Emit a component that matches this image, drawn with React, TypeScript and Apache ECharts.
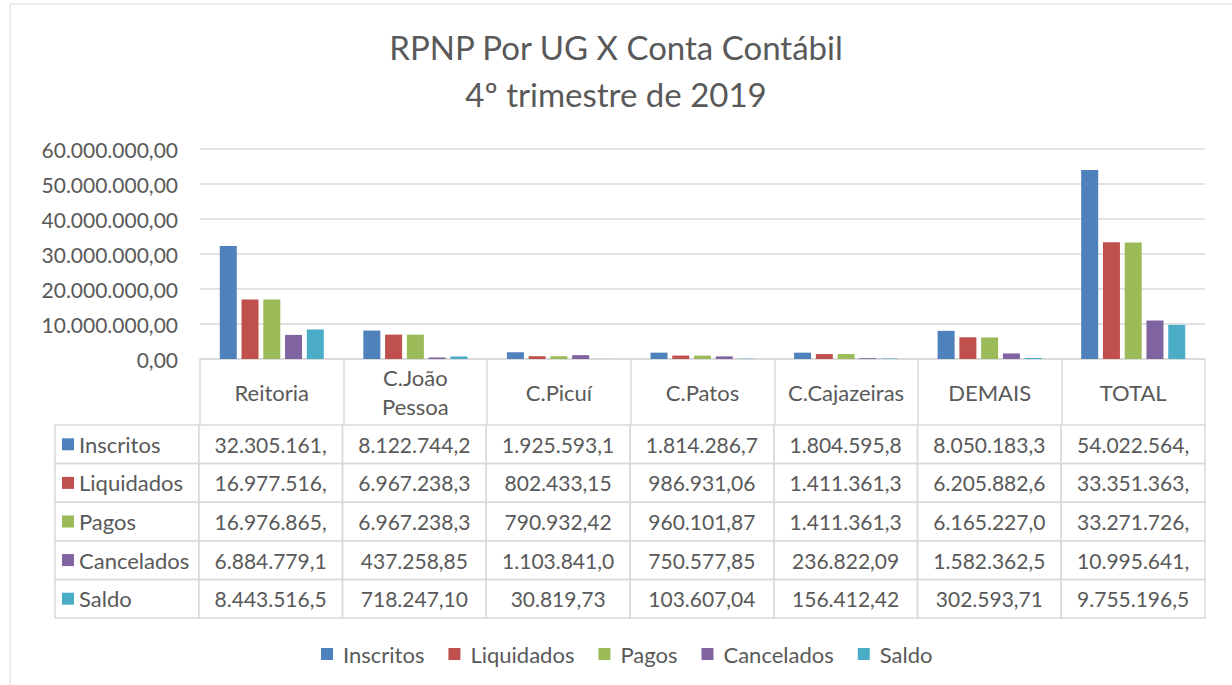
import React, { useEffect, useRef } from 'react';
import * as echarts from 'echarts';

// Categories (UG) and accounting series
const categories = ['Reitoria', 'C.João\nPessoa', 'C.Picuí', 'C.Patos', 'C.Cajazeiras', 'DEMAIS', 'TOTAL'];
const seriesNames = ['Inscritos', 'Liquidados', 'Pagos', 'Cancelados', 'Saldo'];
const seriesColors = ['#4F81BD', '#C0504D', '#9BBB59', '#8064A2', '#4BACC6'];

const inscritos = [32305161.0, 8122744.2, 1925593.1, 1814286.7, 1804595.8, 8050183.3, 54022564.0];
const liquidados = [16977516.0, 6967238.3, 802433.15, 986931.06, 1411361.3, 6205882.6, 33351363.0];
const pagos = [16976865.0, 6967238.3, 790932.42, 960101.87, 1411361.3, 6165227.0, 33271726.0];
const cancelados = [6884779.1, 437258.85, 1103841.0, 750577.85, 236822.09, 1582362.5, 10995641.0];
const saldo = [8443516.5, 718247.1, 30819.73, 103607.04, 156412.42, 302593.71, 9755196.5];

const seriesValues = [inscritos, liquidados, pagos, cancelados, saldo];

// Value axis
const yMin = 0;
const yMax = 60000000;
const yInterval = 10000000;

// Data-table cells show at most this many characters
const CELL_CHARS = 11;

const FONT = 'Lato';
const TEXT_COLOR = '#595959';
const LINE_COLOR = '#D9D9D9';

function formatBR(v: number): string {
  const fixed = Math.abs(v).toFixed(2);
  const [intPart, dec] = fixed.split('.');
  const grouped = intPart.replace(/\B(?=(\d{3})+(?!\d))/g, '.');
  return (v < 0 ? '-' : '') + grouped + ',' + dec;
}

const cellText = (v: number) => formatBR(v).slice(0, CELL_CHARS);

export default function App() {
  const ref = useRef<HTMLDivElement>(null);

  useEffect(() => {
    if (!ref.current) return;
    const chart = echarts.init(ref.current, undefined, { renderer: 'svg' });

    // table cells: column 0 holds the series name, columns 1..7 the values
    const tableData: number[][] = [];
    for (let r = 0; r < seriesNames.length; r++) {
      for (let c = 0; c <= categories.length; c++) {
        tableData.push([c, r]);
      }
    }

    const option: any = {
      animation: false,
      backgroundColor: '#ffffff',
      title: {
        text: 'RPNP Por UG X Conta Contábil\n4º trimestre de 2019',
        left: 'center',
        top: 18,
        textStyle: {
          fontFamily: FONT,
          fontSize: 33,
          fontWeight: 'normal',
          color: TEXT_COLOR,
          lineHeight: 47,
        },
      },
      graphic: [
        {
          type: 'rect',
          shape: { x: 10, y: 4, width: 1240, height: 720 },
          style: { fill: 'none', stroke: LINE_COLOR, lineWidth: 1 },
          silent: true,
        },
      ],
      legend: {
        data: seriesNames,
        left: 321,
        top: 643,
        padding: 0,
        icon: 'rect',
        itemWidth: 12,
        itemHeight: 12,
        itemGap: 24,
        textStyle: { fontFamily: FONT, fontSize: 22, color: TEXT_COLOR, padding: [0, 0, 0, 5] },
      },
      grid: [
        { left: 200, right: 27, top: 149, bottom: 326, containLabel: false },
        { left: 55, right: 27, top: 425, height: 193, containLabel: false },
      ],
      xAxis: [
        {
          type: 'category',
          gridIndex: 0,
          data: categories,
          axisLine: { show: true, lineStyle: { color: LINE_COLOR, width: 1.5 } },
          axisTick: { show: true, interval: 0, length: 66, lineStyle: { color: LINE_COLOR, width: 1.5 } },
          axisLabel: {
            interval: 0,
            margin: 33,
            verticalAlign: 'middle',
            fontFamily: FONT,
            fontSize: 22,
            lineHeight: 29,
            color: TEXT_COLOR,
          },
        },
        {
          type: 'category',
          gridIndex: 1,
          data: ['', ...categories],
          show: false,
        },
      ],
      yAxis: [
        {
          type: 'value',
          gridIndex: 0,
          min: yMin,
          max: yMax,
          interval: yInterval,
          axisLine: { show: false },
          axisTick: { show: false },
          splitLine: { lineStyle: { color: LINE_COLOR, width: 1.5 } },
          axisLabel: {
            margin: 22,
            fontFamily: FONT,
            fontSize: 21,
            color: TEXT_COLOR,
            formatter: (v: number) => formatBR(v),
          },
        },
        {
          type: 'category',
          gridIndex: 1,
          data: seriesNames,
          inverse: true,
          show: false,
        },
      ],
      series: [
        ...seriesNames.map((name, i) => ({
          name,
          type: 'bar',
          xAxisIndex: 0,
          yAxisIndex: 0,
          data: seriesValues[i],
          barWidth: 17,
          barGap: '28%',
          itemStyle: { color: seriesColors[i] },
        })),
        {
          name: 'tabela',
          type: 'custom',
          xAxisIndex: 1,
          yAxisIndex: 1,
          clip: false,
          silent: true,
          data: tableData,
          renderItem: (params: any, api: any) => {
            const c = api.value(0);
            const r = api.value(1);
            const center = api.coord([c, r]);
            const size = api.size([1, 1]);
            const w = size[0];
            const h = size[1];
            const x = center[0] - w / 2;
            const y = center[1] - h / 2;
            const children: any[] = [
              {
                type: 'rect',
                shape: { x, y, width: w, height: h },
                style: { fill: 'none', stroke: LINE_COLOR, lineWidth: 1.5 },
              },
            ];
            if (c === 0) {
              children.push({
                type: 'rect',
                shape: { x: x + 7, y: center[1] - 6, width: 12, height: 12 },
                style: { fill: seriesColors[r] },
              });
              children.push({
                type: 'text',
                style: {
                  text: seriesNames[r],
                  x: x + 24,
                  y: center[1],
                  align: 'left',
                  verticalAlign: 'middle',
                  fontFamily: FONT,
                  fontSize: 22,
                  fill: TEXT_COLOR,
                },
              });
            } else {
              children.push({
                type: 'text',
                style: {
                  text: cellText(seriesValues[r][c - 1]),
                  x: center[0],
                  y: center[1],
                  align: 'center',
                  verticalAlign: 'middle',
                  fontFamily: FONT,
                  fontSize: 21,
                  fill: TEXT_COLOR,
                },
              });
            }
            return { type: 'group', children };
          },
        },
      ],
    };

    chart.setOption(option);
    return () => chart.dispose();
  }, []);

  return (
    <div
      ref={ref}
      style={{ position: 'fixed', left: 0, top: 0, width: 1232, height: 685, background: '#fff' }}
    />
  );
}
